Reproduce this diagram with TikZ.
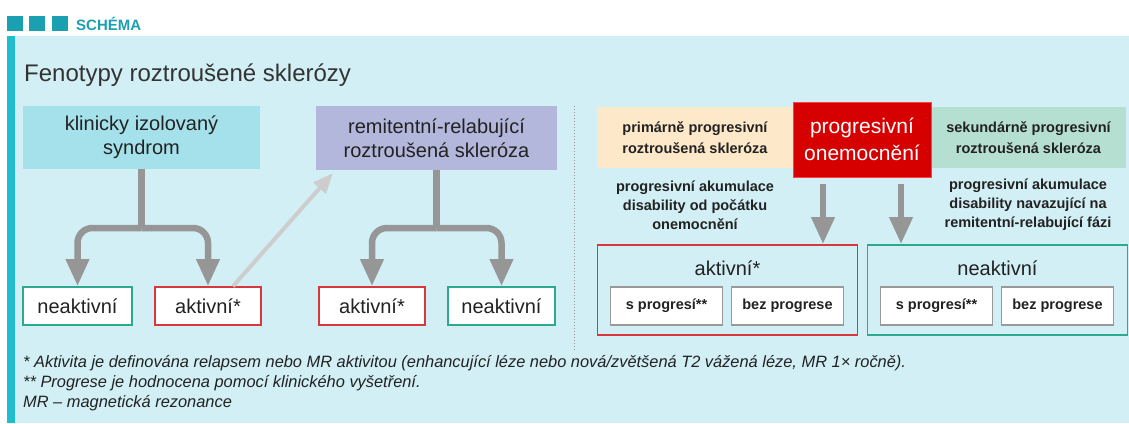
\documentclass[tikz,border=0pt]{standalone}
\usepackage{fontspec}
\setmainfont{Liberation Sans}
\usepackage{tikz}
\usetikzlibrary{arrows.meta}

\definecolor{headteal}{HTML}{1BA0B2}
\definecolor{barcyan}{HTML}{1FBDCF}
\definecolor{panelbg}{HTML}{D1EFF4}
\definecolor{cisfill}{HTML}{A5E1EA}
\definecolor{rrsfill}{HTML}{B3B7DB}
\definecolor{ppfill}{HTML}{FDE9C9}
\definecolor{spfill}{HTML}{B5DFD1}
\definecolor{progred}{HTML}{D60000}
\definecolor{activered}{HTML}{D7383B}
\definecolor{inactivegreen}{HTML}{2DAA8E}
\definecolor{arrowgray}{HTML}{969696}
\definecolor{relapsegray}{HTML}{CDCDCD}
\definecolor{ink}{HTML}{222222}

\tikzset{
    phase/.style={inner sep=0pt, align=center, text=ink, font=\fontsize{20}{24}\selectfont},
    small/.style={font=\fontsize{14.5}{21}\selectfont\bfseries},
    state/.style={draw, fill=white, line width=1.6pt, inner sep=0pt, minimum height=38pt, text=ink, font=\fontsize{20}{24}\selectfont},
    group/.style={draw, line width=1.6pt, inner sep=0pt, minimum width=260pt, minimum height=90pt},
    sub/.style={draw=black!40, fill=white, line width=1.2pt, inner sep=0pt, minimum width=112pt, minimum height=38pt, text=ink, small},
    stem/.style={draw=arrowgray, line width=6.5pt},
    branch/.style={stem, rounded corners=15pt, -{Triangle[width=22pt,length=27pt]}},
    relapse/.style={draw=relapsegray, line width=4pt, -{Triangle[width=16pt,length=20pt]}},
    note/.style={anchor=base west, inner sep=0pt, text=ink, font=\fontsize{16.4}{20}\selectfont\itshape}
}

\begin{document}
\begin{tikzpicture}[x=1pt, y=-1pt]
    \useasboundingbox (0,0) rectangle (1129,423);

    % panel and header
    \fill[panelbg] (7,36) rectangle (1129,423);
    \fill[barcyan] (7,36) rectangle (15,423);
    \fill[headteal] (7,16) rectangle (23,31);
    \fill[headteal] (29,16) rectangle (45,31);
    \fill[headteal] (52,16) rectangle (68,31);
    \node[anchor=west, inner sep=0pt, text=headteal, font=\fontsize{15}{18}\selectfont\bfseries] (hdr) at (76,24) {SCHÉMA};
    \node[anchor=base west, inner sep=0pt, text=black!80, font=\fontsize{24}{28}\selectfont] (title) at (24,81) {Fenotypy roztroušené sklerózy};

    % relapsing part
    \node[phase, fill=cisfill, minimum width=237pt, minimum height=63pt] (cis) at (141.5,137.5) {klinicky izolovaný\\syndrom};
    \node[phase, fill=rrsfill, minimum width=241pt, minimum height=64pt] (rrs) at (436.5,138) {remitentní-relabující\\roztroušená skleróza};

    \node[state, draw=inactivegreen, minimum width=109pt] (neak1) at (77.5,306) {neaktivní};
    \node[state, draw=activered, minimum width=106pt] (akt1) at (208,306) {aktivní*};
    \node[state, draw=activered, minimum width=106pt] (akt2) at (372,306) {aktivní*};
    \node[state, draw=inactivegreen, minimum width=107pt] (neak2) at (501.5,306) {neaktivní};

    \coordinate (split1) at (cis.south |- 0,228);
    \coordinate (split2) at (rrs.south |- 0,228);

    \draw[stem] (cis.south) -- (split1);
    \draw[branch] (split1) -| (neak1.north);
    \draw[branch] (split1) -| (akt1.north);
    \draw[stem] (rrs.south) -- (split2);
    \draw[branch] (split2) -| (akt2.north);
    \draw[branch] (split2) -| (neak2.north);
    \draw[relapse] ([xshift=25pt]akt1.north) -- ([xshift=17pt,yshift=-3pt]rrs.south west);

    \draw[arrowgray, dotted, line width=1pt] (574,106) -- (574,350);

    % progressive part
    \node[phase, small, fill=ppfill, minimum width=196pt, minimum height=61pt] (ppms) at (695,137.5) {primárně progresivní\\roztroušená skleróza};
    \node[phase, small, fill=spfill, minimum width=195pt, minimum height=61pt] (spms) at (1028.5,137.5) {sekundárně progresivní\\roztroušená skleróza};
    \node[phase, fill=progred, draw=red!75, line width=1pt, text=white, minimum width=138pt, minimum height=75pt, font=\fontsize{21}{27}\selectfont] (prog) at (862,139.5) {progresivní\\onemocnění};

    \node[phase, font=\fontsize{14.5}{19}\selectfont\bfseries] (acc1) at (695,205) {progresivní akumulace\\disability od počátku\\onemocnění};
    \node[phase, font=\fontsize{14.5}{19}\selectfont\bfseries] (acc2) at (1028,205) {progresivní akumulace\\disability navazující na\\remitentní-relabující fázi};

    \node[group, draw=activered] (aktbig) at (727.5,290) {};
    \node[group, draw=inactivegreen] (neakbig) at (997.5,290) {};
    \node[phase] (aktlbl) at (727.5,268) {aktivní*};
    \node[phase] (neaklbl) at (997.5,268) {neaktivní};
    \node[sub] (sp1) at (666.5,306) {s progresí**};
    \node[sub] (bez1) at (787.5,306) {bez progrese};
    \node[sub] (sp2) at (936.5,306) {s progresí**};
    \node[sub] (bez2) at (1057.5,306) {bez progrese};

    \draw[branch] ([xshift=-39pt,yshift=-6pt]prog.south) -- ([xshift=-39pt]prog.south |- aktbig.north);
    \draw[branch] ([xshift=39pt,yshift=-6pt]prog.south) -- ([xshift=39pt]prog.south |- neakbig.north);

    % footnotes
    \node[note] (note1) at (23,367) {* Aktivita je definována relapsem nebo MR aktivitou (enhancující léze nebo nová/zvětšená T2 vážená léze, MR 1× ročně).};
    \node[note] (note2) at (23,387) {** Progrese je hodnocena pomocí klinického vyšetření.};
    \node[note] (note3) at (23,407) {MR – magnetická rezonance};
\end{tikzpicture}
\end{document}
